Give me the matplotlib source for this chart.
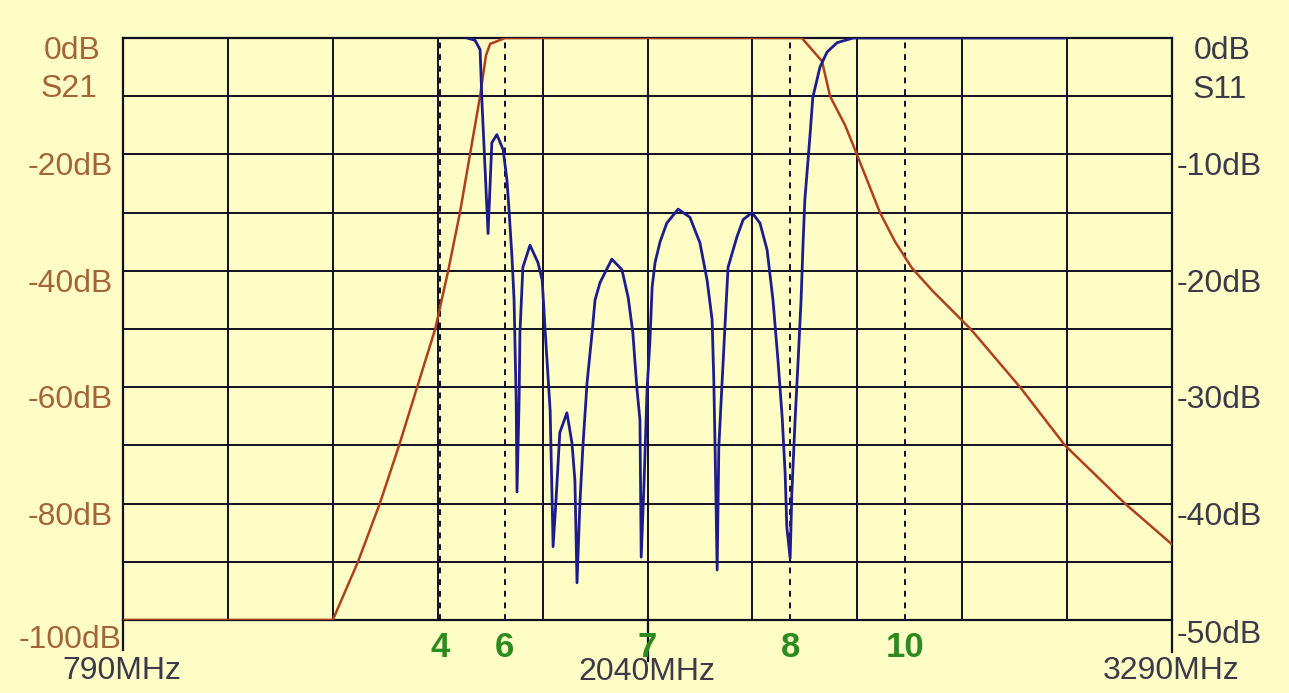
import matplotlib
matplotlib.use('Agg')
from matplotlib import pyplot as plt
import numpy as np

plt.rcParams['font.family'] = ['Liberation Sans', 'DejaVu Sans']

# S21 (left axis, dB) vs frequency (MHz)
s21_f = [790, 1290, 1350, 1402, 1448, 1491, 1534, 1565, 1593, 1617, 1641, 1655, 1665, 1680, 1700,
         2408, 2456, 2475, 2511, 2539, 2594, 2630, 2670, 2720, 2810, 2928, 3035, 3178, 3290]
s21_db = [-100, -100, -90, -80, -70, -60, -50, -40, -30, -20, -10, -3, -1, -0.6, 0,
          0, -4, -10, -15, -20, -30, -35, -39.5, -43.5, -50, -60, -70, -80, -87]

# S11 (right axis, dB) vs frequency (MHz)
s11_f = [1610, 1629, 1641, 1646, 1653, 1660, 1669, 1681, 1696, 1705, 1710, 1717, 1722, 1727, 1729,
         1734, 1736, 1743, 1760, 1779, 1789, 1796, 1808, 1812, 1815, 1822, 1831, 1848, 1860, 1867,
         1872, 1879, 1886, 1896, 1908, 1915, 1927, 1955, 1979, 1994, 2005, 2015, 2022, 2025, 2032,
         2039, 2046, 2051, 2058, 2070, 2086, 2113, 2141, 2165, 2182, 2194, 2198, 2201, 2206, 2210,
         2218, 2225, 2232, 2253, 2268, 2289, 2308, 2325, 2339, 2351, 2361, 2368, 2372, 2380, 2384,
         2392, 2399, 2406, 2411, 2415, 2427, 2434, 2451, 2468, 2492, 2530, 3035]
s11_db = [0, -0.2, -1.0, -5.9, -11.3, -16.8, -9.0, -8.3, -9.6, -12.2, -14.8, -18.8, -22.5, -31.1, -39.0,
          -31.1, -25.3, -19.7, -17.8, -19.3, -20.8, -25.1, -32.0, -38.6, -43.7, -39.7, -33.9, -32.2, -34.8, -38.0,
          -46.8, -39.9, -35.1, -29.6, -25.3, -22.5, -21.0, -19.0, -19.9, -22.3, -25.3, -30.2, -32.8, -44.6, -38.0,
          -30.2, -25.9, -21.4, -19.3, -17.5, -15.9, -14.7, -15.4, -17.6, -20.8, -24.2, -29.4, -35.1, -45.7, -35.1,
          -29.4, -24.5, -19.7, -17.1, -15.6, -15.0, -15.9, -18.2, -22.5, -27.7, -32.6, -37.4, -42.0, -44.7, -39.1,
          -32.6, -27.7, -22.5, -17.4, -13.9, -8.5, -5.1, -2.5, -1.2, -0.4, 0, 0]

# markers
mk_f = [1546, 1700, 2040, 2380, 2654]
mk_lbl = ['4', '6', '7', '8', '10']

left_lbl = ['0dB', '-20dB', '-40dB', '-60dB', '-80dB', '-100dB']
left_val = [0, -20, -40, -60, -80, -100]
right_lbl = ['0dB', '-10dB', '-20dB', '-30dB', '-40dB', '-50dB']

W, H = 1289, 693
bg = '#fffdc6'
fig = plt.figure(figsize=(W / 100, H / 100), dpi=100, facecolor=bg)
L, R, T, B = 123, 1172, 38, 620
ax = fig.add_axes([L / W, 1 - B / H, (R - L) / W, (B - T) / H], facecolor=bg)

def px(x, y):
    return x / W, 1 - y / H

ax.set_xlim(790, 3290)
ax.set_ylim(-100, 0)
ax.set_xticks(np.arange(790, 3291, 250))
ax.set_yticks(np.arange(-100, 1, 10))
ax.grid(True, color='#101020', lw=1.4)
ax.tick_params(length=0, labelbottom=False, labelleft=False)
for s in ax.spines.values():
    s.set_color('#101020')
    s.set_linewidth(1.6)

# marker lines
for f, lb in zip(mk_f, mk_lbl):
    if lb != '7':
        ax.axvline(f, color='#101020', lw=1.4, ls=(0, (3, 3)), zorder=2)
    ax.text(f, -104.8, lb, color='#2d8a1e', fontsize=25, fontweight='bold',
            ha='center', va='center', clip_on=False)

# extended axis lines below the plot
for f, ext in [(790, -105.2), (2040, -107.0), (3290, -105.5)]:
    ax.plot([f, f], [-100, ext], color='#101020', lw=1.6, clip_on=False)

ax2 = ax.twinx()
ax2.set_ylim(-50, 0)
ax2.axis('off')

ax.plot(s21_f, s21_db, color='#b0401c', lw=1.8, zorder=4)
ax2.plot(s11_f, s11_db, color='#1c1c8c', lw=2.0, zorder=5)

lcol = '#a4643a'
rcol = '#3a3a48'
for v, t in zip(left_val, left_lbl):
    y = B - (v + 100) / 100 * (B - T)
    if v == 0:
        fig.text(*px(72, y + 13), t, color=lcol, fontsize=23, ha='center', va='center')
    elif v == -100:
        fig.text(*px(L - 1, y + 20), t, color=lcol, fontsize=23, ha='right', va='center')
    else:
        fig.text(*px(L - 10, y + 13), t, color=lcol, fontsize=23, ha='right', va='center')
fig.text(*px(69, 89), 'S21', color=lcol, fontsize=23, ha='center', va='center')
for i, t in enumerate(right_lbl):
    y = T + i * (B - T) / 5
    off = 15 if i == 5 else 13
    if i == 0:
        fig.text(*px(1222, y + off), t, color=rcol, fontsize=23, ha='center', va='center')
    else:
        fig.text(*px(R + 5, y + off), t, color=rcol, fontsize=23, ha='left', va='center')
fig.text(*px(1220, 90), 'S11', color=rcol, fontsize=23, ha='center', va='center')

fig.text(*px(122, 671), '790MHz', color=rcol, fontsize=23, ha='center', va='center')
fig.text(*px(647, 672), '2040MHz', color=rcol, fontsize=23, ha='center', va='center')
fig.text(*px(1171, 671), '3290MHz', color=rcol, fontsize=23, ha='center', va='center')

fig.savefig('out.png', dpi=100, facecolor=bg)
